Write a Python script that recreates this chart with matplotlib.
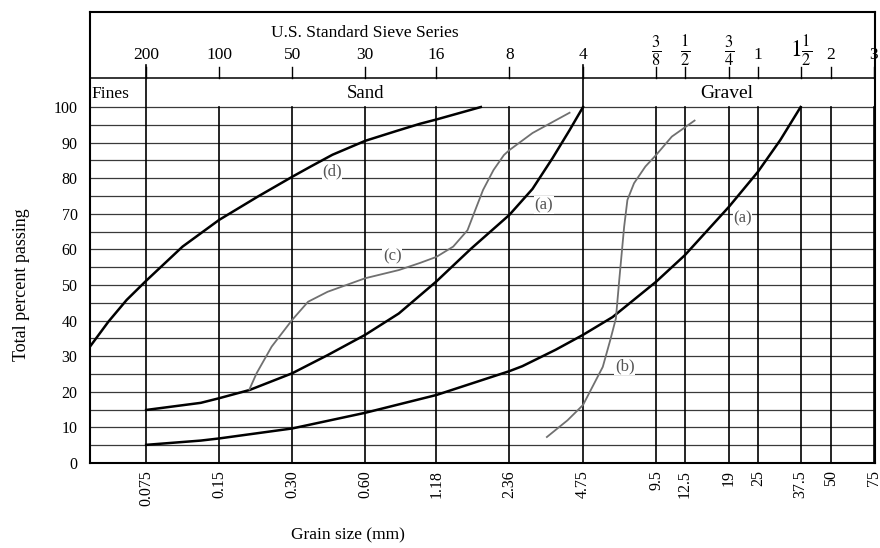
import numpy as np
import matplotlib
matplotlib.use("Agg")
import matplotlib.pyplot as plt

plt.rcParams['font.family'] = ['Liberation Serif', 'DejaVu Serif']
plt.rcParams['mathtext.fontset'] = 'stix'

# ---- data (grain size in mm, percent passing) ----
sieve_mm = [0.075, 0.15, 0.30, 0.60, 1.18, 2.36, 4.75, 9.5, 12.5, 19, 25, 37.5, 50, 75]
mm_labels = ['0.075', '0.15', '0.30', '0.60', '1.18', '2.36', '4.75',
             '9.5', '12.5', '19', '25', '37.5', '50', '75']
sieve_labels = ['200', '100', '50', '30', '16', '8', '4',
                r'$\frac{3}{8}$', r'$\frac{1}{2}$', r'$\frac{3}{4}$', '1',
                r'$1\frac{1}{2}$', '2', '3']

d_size = [0.044, 0.0524, 0.0623, 0.075, 0.106, 0.15, 0.216, 0.30, 0.358,
          0.44, 0.60, 0.81, 1.01, 1.18, 1.8]
d_pass = [32.7, 39.7, 45.8, 51.2, 60.8, 68.3, 74.8, 80.4, 83.3,
          86.6, 90.5, 93.3, 95.3, 96.5, 100]

a1_size = [0.075, 0.126, 0.15, 0.200, 0.30, 0.42, 0.60, 0.826, 1.18,
           1.64, 2.36, 2.94, 3.56, 4.18, 4.75]
a1_pass = [14.9, 16.9, 18.2, 20.5, 25.2, 30.3, 36.0, 42.0, 51.0,
           60.2, 69.7, 77.0, 85.7, 93.5, 100]

c_size = [0.200, 0.214, 0.247, 0.30, 0.349, 0.42, 0.60, 0.826, 1.01, 1.18,
          1.385, 1.586, 1.688, 1.838, 2.03, 2.24, 2.36, 2.94, 3.67, 4.18]
c_pass = [20.7, 25.2, 32.7, 40.2, 45.3, 48.1, 51.9, 54.2, 56.2, 57.9,
          60.8, 65.4, 70.2, 76.7, 82.3, 86.5, 87.9, 92.7, 96.3, 98.4]

a2_size = [0.075, 0.126, 0.15, 0.30, 0.60, 1.18, 2.36, 2.67, 3.66, 4.75,
           6.29, 9.5, 12.5, 19, 25, 30.9, 37.5]
a2_pass = [5.1, 6.3, 6.9, 9.7, 14.1, 19.1, 25.8, 27.2, 31.8, 36.0,
           41.0, 50.9, 58.4, 72.0, 81.8, 90.7, 100]

b_size = [3.37, 4.1, 4.75, 5.73, 6.15, 6.49, 6.70, 7.02, 7.24, 7.71,
          8.59, 9.5, 11.04, 13.7]
b_pass = [7.3, 12.0, 16.3, 27.0, 34.5, 40.6, 51.4, 66.4, 73.9, 78.6,
          83.3, 86.5, 91.7, 96.2]

curve_labels = ['(d)', '(a)', '(c)', '(a)', '(b)']
label_x = [0.438, 3.27, 0.775, 21.6, 7.06]
label_y = [81.8, 72.5, 58.1, 68.8, 27.2]

fig = plt.figure(figsize=(8.8, 5.48), dpi=100)
# one axes covers the grid and the header box above it
ax = fig.add_axes([90 / 880, (548 - 463) / 548, (875 - 90) / 880, (463 - 12) / 548])
ax.set_xscale('log')
ax.set_xlim(0.044, 76)
ax.set_ylim(0, 126.7)

# horizontal grid every 5 %
for yv in range(5, 101, 5):
    ax.axhline(yv, color='#3a3a3a', lw=0.9, zorder=1)
# vertical grid lines + sieve marks in header
for s in sieve_mm:
    top = 111.8 if s in (0.075, 4.75) else 100
    ax.plot([s, s], [0, top], color='black', lw=1.2, zorder=1)
    ax.plot([s, s], [108.1, 111.2], color='black', lw=1.0, zorder=1)
ax.axhline(108.1, color='black', lw=1.1, zorder=1)

# curves
ax.plot(d_size, d_pass, color='black', lw=1.8, zorder=3)
ax.plot(a1_size, a1_pass, color='black', lw=1.8, zorder=3)
ax.plot(a2_size, a2_pass, color='black', lw=1.8, zorder=3)
ax.plot(c_size, c_pass, color='#707070', lw=1.3, zorder=3)
ax.plot(b_size, b_pass, color='#707070', lw=1.3, zorder=3)

# curve labels sit over the grid but under the curves
for t, xv, yv in zip(curve_labels, label_x, label_y):
    ax.text(xv, yv, t, fontsize=12, color='#555555', ha='center', va='center', zorder=2,
            bbox=dict(facecolor='white', edgecolor='none', pad=0.5))

# header texts
ax.text(0.6, 120.8, 'U.S. Standard Sieve Series', fontsize=12.5, ha='center', va='center')
for s, lab in zip(sieve_mm, sieve_labels):
    if lab.startswith('$'):
        ax.text(s, 115.6, lab, fontsize=17, ha='center', va='center')
    else:
        ax.text(s, 114.6, lab, fontsize=12.5, ha='center', va='center')
ax.text(0.0448, 103.8, 'Fines', fontsize=12.5, ha='left', va='center')
ax.text(0.6, 103.8, 'Sand', fontsize=13.5, ha='center', va='center')
ax.text(18.6, 103.8, 'Gravel', fontsize=14, ha='center', va='center')

# axes ticks
ax.set_yticks(range(0, 101, 10))
ax.set_yticklabels([str(v) for v in range(0, 101, 10)], fontsize=11.5)
ax.set_xticks(sieve_mm)
ax.set_xticklabels(mm_labels, rotation=90, fontsize=11.5, va='top')
ax.minorticks_off()
ax.tick_params(axis='both', length=0)
ax.tick_params(axis='y', pad=9)
ax.tick_params(axis='x', pad=5)
for sp in ax.spines.values():
    sp.set_linewidth(1.5)

fig.text(22 / 880, 1 - 285 / 548, 'Total percent passing', rotation=90,
         fontsize=13, ha='center', va='center')
fig.text(348 / 880, 1 - 535 / 548, 'Grain size (mm)', fontsize=12.5,
         ha='center', va='center')

fig.savefig('out.png', dpi=100)
